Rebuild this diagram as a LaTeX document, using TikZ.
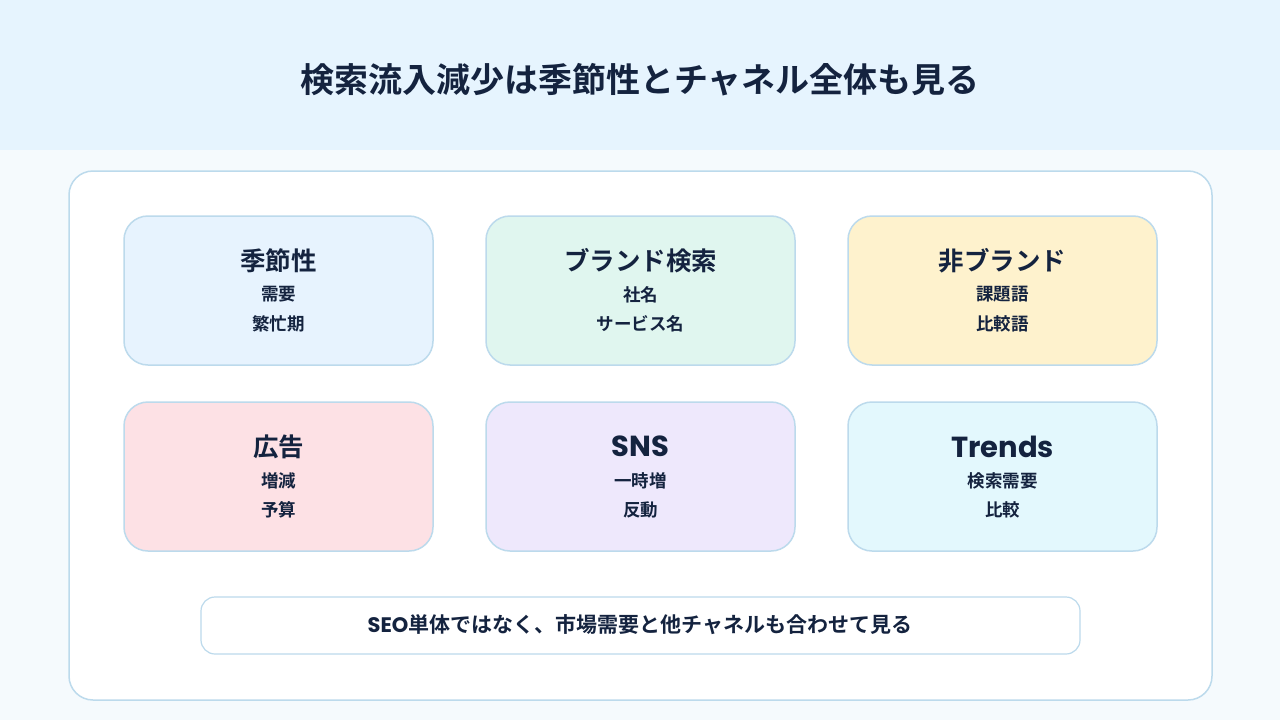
\documentclass[tikz,border=0pt]{standalone}
\usepackage{fontspec}
\setmainfont{Noto Sans CJK JP}[BoldFont={Noto Sans CJK JP Bold}]
\newfontfamily\latinf{Poppins}
\definecolor{hdr}{HTML}{E6F4FE}
\definecolor{bgc}{HTML}{F5FAFD}
\definecolor{strk}{HTML}{BCDAEC}
\definecolor{ink}{HTML}{14233F}
\definecolor{cA}{HTML}{E7F3FE}
\definecolor{cB}{HTML}{E0F6EF}
\definecolor{cC}{HTML}{FEF2CD}
\definecolor{cD}{HTML}{FDE1E5}
\definecolor{cE}{HTML}{EEE8FC}
\definecolor{cF}{HTML}{E3F8FD}
\tikzset{
  cardbox/.style={draw=strk, line width=1.5pt, rounded corners=24pt, minimum width=309pt, minimum height=149pt, inner sep=0pt},
  cardtitle/.style={text=ink, font=\bfseries\fontsize{25.5}{28}\selectfont, inner sep=0pt},
  cardline/.style={text=ink, font=\bfseries\fontsize{17.5}{20}\selectfont, inner sep=0pt},
}
\newcommand{\mycard}[7]{%
  \node[cardbox, fill=#4] (#1) at (#2,#3) {};
  \node[cardtitle] (#1t) at (#2,#3-30) {#5};
  \node[cardline] (#1a) at (#2,#3+4) {#6};
  \node[cardline] (#1b) at (#2,#3+33) {#7};
}
\newcommand{\lt}[1]{{\latinf\fontsize{29}{32}\selectfont #1}}
\begin{document}
\begin{tikzpicture}[x=1pt,y=-1pt]
\useasboundingbox (0,0) rectangle (1280,720);
\fill[bgc] (0,0) rectangle (1280,720);
\fill[hdr] (0,0) rectangle (1280,150);
\node[text=ink, font=\bfseries\fontsize{34}{40}\selectfont, inner sep=0pt] (title) at (640,80) {検索流入減少は季節性とチャネル全体も見る};
\node[draw=strk, line width=1.5pt, fill=white, rounded corners=24pt, minimum width=1143pt, minimum height=529pt, inner sep=0pt] (panel) at (640.5,435.5) {};
\mycard{s}{278.5}{290.5}{cA}{季節性}{需要}{繁忙期}
\mycard{b}{640.5}{290.5}{cB}{ブランド検索}{社名}{サービス名}
\mycard{n}{1002.5}{290.5}{cC}{非ブランド}{課題語}{比較語}
\mycard{a}{278.5}{476.5}{cD}{広告}{増減}{予算}
\mycard{k}{640.5}{476.5}{cE}{\lt{SNS}}{一時増}{反動}
\mycard{r}{1002.5}{476.5}{cF}{\lt{Trends}}{検索需要}{比較}
\node[draw=strk, line width=1.2pt, fill=white, rounded corners=14pt, minimum width=879pt, minimum height=57pt, inner sep=0pt] (note) at (640.5,625.5) {};
\node[text=ink, font=\bfseries\fontsize{21}{24}\selectfont, inner sep=0pt] (notet) at (640,625) {{\latinf SEO}単体ではなく、市場需要と他チャネルも合わせて見る};
\end{tikzpicture}
\end{document}
